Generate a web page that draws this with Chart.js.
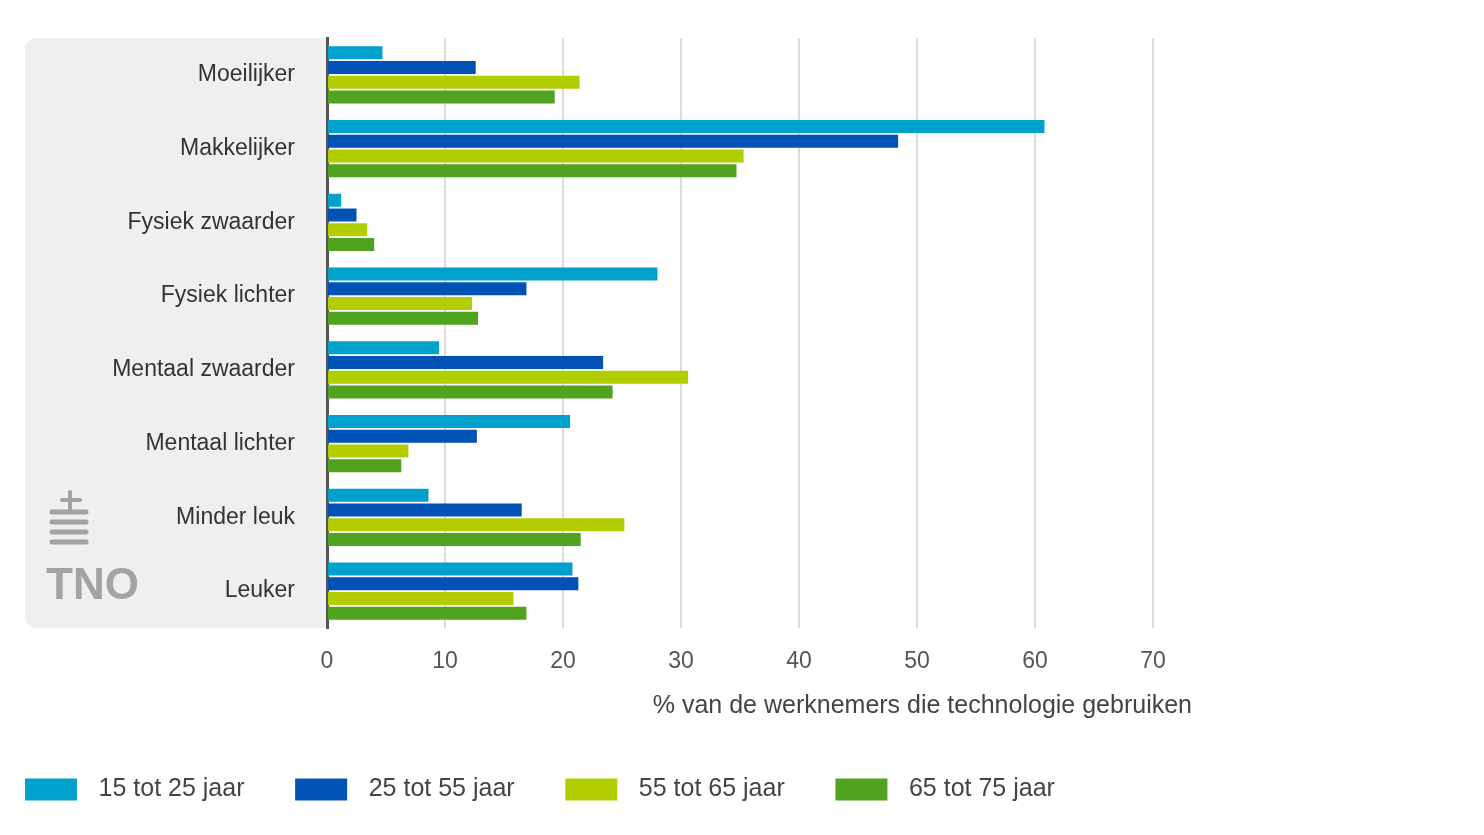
<!DOCTYPE html>
<html>
<head>
    <title>Technologie en werk per leeftijdsgroep</title>
    <script src="https://cdn.jsdelivr.net/npm/chart.js@4.4.0/dist/chart.umd.min.js"></script>
    <style>
    html, body {
        margin: 0;
        padding: 0;
        background: #fff;
    }
    #container {
        width: 1484px;
        height: 835px;
    }
    </style>
</head>
<body>
  <div id="container">
    <canvas id="myCanvas"></canvas>
  </div>

  <script>
  // categorieen (y-as)
  var categories = ['Moeilijker', 'Makkelijker', 'Fysiek zwaarder', 'Fysiek lichter',
                    'Mentaal zwaarder', 'Mentaal lichter', 'Minder leuk', 'Leuker'];

  // series, % van de werknemers
  var seriesLabels = ['15 tot 25 jaar', '25 tot 55 jaar', '55 tot 65 jaar', '65 tot 75 jaar'];
  var age15_25 = [4.7, 60.8, 1.2, 28.0, 9.5, 20.6, 8.6, 20.8];
  var age25_55 = [12.6, 48.4, 2.5, 16.9, 23.4, 12.7, 16.5, 21.3];
  var age55_65 = [21.4, 35.3, 3.4, 12.3, 30.6, 6.9, 25.2, 15.8];
  var age65_75 = [19.3, 34.7, 4.0, 12.8, 24.2, 6.3, 21.5, 16.9];

  var xTicks = [0, 10, 20, 30, 40, 50, 60, 70];
  var xTitle = '% van de werknemers die technologie gebruiken';

  var colors = {
    cyan: '#00a1cd',
    blue: '#0052b5',
    lime: '#b2cd00',
    green: '#50a21f'
  };

  var font = "'Liberation Sans', Arial, sans-serif";

  // grijs vlak achter de labels + TNO logo
  var panelPlugin = {
    id: 'panel',
    beforeDraw: function(chart) {
      var ctx = chart.ctx;
      var a = chart.chartArea;
      var x0 = 25, r = 12;
      ctx.save();
      ctx.fillStyle = '#efefef';
      ctx.beginPath();
      ctx.moveTo(a.left, a.top);
      ctx.lineTo(x0 + r, a.top);
      ctx.arcTo(x0, a.top, x0, a.top + r, r);
      ctx.lineTo(x0, a.bottom - r);
      ctx.arcTo(x0, a.bottom, x0 + r, a.bottom, r);
      ctx.lineTo(a.left, a.bottom);
      ctx.closePath();
      ctx.fill();

      // logo
      ctx.fillStyle = '#a3a3a3';
      ctx.strokeStyle = '#a3a3a3';
      ctx.font = "bold 44px 'Liberation Sans', Arial, sans-serif";
      ctx.textBaseline = 'middle';
      ctx.textAlign = 'left';
      ctx.fillText('TNO', 46, 587);
      ctx.lineWidth = 4;
      ctx.lineCap = 'round';
      ctx.beginPath();
      ctx.moveTo(70, 492); ctx.lineTo(70, 512);
      ctx.moveTo(62, 500); ctx.lineTo(80, 500);
      ctx.stroke();
      ctx.lineWidth = 5;
      for (var i = 0; i < 4; i++) {
        ctx.beginPath();
        ctx.moveTo(52, 512 + i * 10);
        ctx.lineTo(86, 512 + i * 10);
        ctx.stroke();
      }
      ctx.restore();
    }
  };

  var config = new Chart(document.getElementById('myCanvas'), {
    type: 'bar',
    data: {
      labels: categories,
      datasets: [
        { label: seriesLabels[0], data: age15_25, backgroundColor: colors.cyan },
        { label: seriesLabels[1], data: age25_55, backgroundColor: colors.blue },
        { label: seriesLabels[2], data: age55_65, backgroundColor: colors.lime },
        { label: seriesLabels[3], data: age65_75, backgroundColor: colors.green }
      ]
    },
    options: {
      indexAxis: 'y',
      responsive: true,
      maintainAspectRatio: false,
      animation: false,
      datasets: {
        bar: {
          categoryPercentage: 0.8,
          barPercentage: 0.88,
          borderWidth: 0
        }
      },
      layout: {
        padding: { left: 16, right: 292, top: 38, bottom: 23 }
      },
      scales: {
        x: {
          min: 0,
          max: 73.3,
          afterBuildTicks: function(scale) {
            scale.ticks = xTicks.map(function(v) { return { value: v }; });
          },
          afterFit: function(scale) { scale.height = 140; },
          grid: { color: '#dcdcdc', lineWidth: 2, drawTicks: false },
          border: { display: false },
          ticks: {
            padding: 20,
            color: '#555',
            font: { family: font, size: 23 }
          },
          title: {
            display: true,
            text: xTitle,
            align: 'end',
            color: '#444',
            font: { family: font, size: 25 },
            padding: { top: 0, bottom: 47 }
          }
        },
        y: {
          afterFit: function(scale) { scale.width = 311; },
          grid: {
            display: true,
            drawOnChartArea: false,
            drawTicks: true,
            tickLength: 30,
            tickColor: 'rgba(0,0,0,0)'
          },
          border: { display: true, color: '#555', width: 3 },
          ticks: {
            padding: 2,
            color: '#333',
            font: { family: font, size: 23 }
          }
        }
      },
      plugins: {
        tooltip: { enabled: false },
        legend: {
          position: 'bottom',
          align: 'start',
          labels: {
            boxWidth: 52,
            boxHeight: 22,
            padding: 9,
            color: '#444',
            font: { family: font, size: 25 },
            generateLabels: function(chart) {
              var items = Chart.defaults.plugins.legend.labels.generateLabels(chart);
              items.forEach(function(it) {
                it.text = ' \u200A' + it.text + '      ';
                it.lineWidth = 0;
              });
              return items;
            }
          }
        }
      }
    },
    plugins: [panelPlugin]
  });
  </script>
</body>
</html>
